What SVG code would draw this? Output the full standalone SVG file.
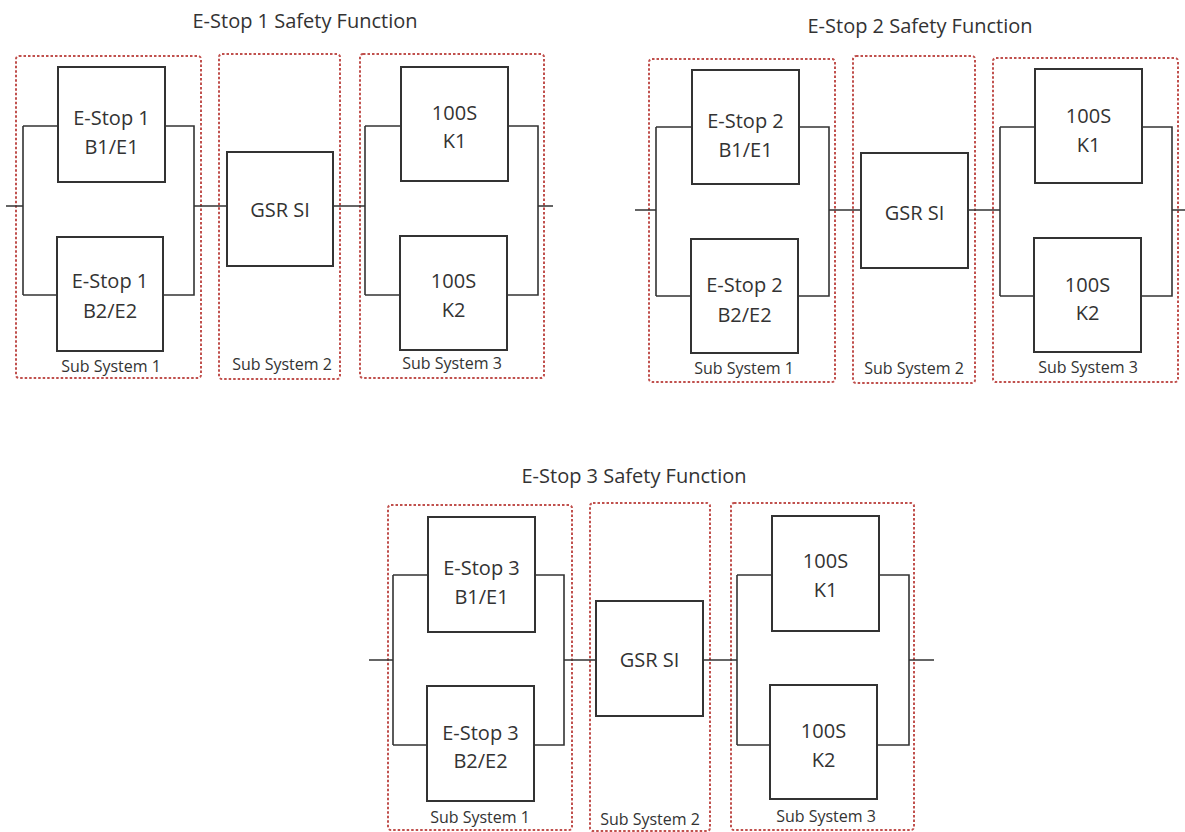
<svg xmlns="http://www.w3.org/2000/svg" width="1185" height="832" viewBox="0 0 1185 832">
<style>
text{font-family:"Open Sans","Liberation Sans",sans-serif;fill:#333;text-anchor:middle}
.t{font-size:20px}
.b{font-size:20px}
.s{font-size:16px}
.ss{fill:none;stroke:#c0504d;stroke-width:2;stroke-dasharray:2.5 2}
.box{fill:#fff;stroke:#333;stroke-width:2}
.c{fill:none;stroke:#333;stroke-width:1.6}
</style>
<rect width="1185" height="832" fill="#fff"/>

<!-- Diagram 1 -->
<g id="d1">
<text class="t" x="305" y="28">E-Stop 1 Safety Function</text>
<g id="d1-ss1"><rect class="ss" x="16" y="56" width="185" height="322" rx="3"/><text class="s" x="111" y="372">Sub System 1</text></g>
<g id="d1-ss2"><rect class="ss" x="219" y="54" width="121" height="325" rx="3"/><text class="s" x="282" y="370">Sub System 2</text></g>
<g id="d1-ss3"><rect class="ss" x="360" y="54" width="184" height="324" rx="3"/><text class="s" x="452" y="369">Sub System 3</text></g>
<g id="d1-connectors">
<path class="c" d="M6 206H23M23 126V295M23 126H58M23 295H57M165 126H194V295H163M194 206H227M333 206H365M365 126V295M365 126H401M365 295H400M508 126H538V295H507M538 206H553"/>
</g>
<g id="d1-b1"><rect class="box" x="58" y="67" width="107" height="115"/><text class="b" x="111.5" y="125">E-Stop 1</text><text class="b" x="111.5" y="154">B1/E1</text></g>
<g id="d1-b2"><rect class="box" x="57" y="237" width="106" height="114"/><text class="b" x="110" y="288">E-Stop 1</text><text class="b" x="110" y="318">B2/E2</text></g>
<g id="d1-gsr"><rect class="box" x="227" y="152" width="106" height="114"/><text class="b" x="280" y="217">GSR SI</text></g>
<g id="d1-k1"><rect class="box" x="401" y="67" width="107" height="114"/><text class="b" x="454.5" y="120">100S</text><text class="b" x="454.5" y="148">K1</text></g>
<g id="d1-k2"><rect class="box" x="400" y="236" width="107" height="114"/><text class="b" x="453.5" y="288">100S</text><text class="b" x="453.5" y="317">K2</text></g>
</g>

<!-- Diagram 2 -->
<g id="d2">
<text class="t" x="920" y="33">E-Stop 2 Safety Function</text>
<g id="d2-ss1"><rect class="ss" x="649" y="59" width="186" height="323" rx="3"/><text class="s" x="744" y="374">Sub System 1</text></g>
<g id="d2-ss2"><rect class="ss" x="853" y="56" width="122" height="327" rx="3"/><text class="s" x="914" y="374">Sub System 2</text></g>
<g id="d2-ss3"><rect class="ss" x="993" y="58" width="185" height="324" rx="3"/><text class="s" x="1088" y="373">Sub System 3</text></g>
<g id="d2-connectors">
<path class="c" d="M635 210H656M656 127V296M656 127H692M656 296H691M799 127H829V296H798M829 210H861M968 210H1000M1000 127V296M1000 127H1035M1000 296H1034M1142 127H1172V296H1141M1172 210H1185"/>
</g>
<g id="d2-b1"><rect class="box" x="692" y="70" width="107" height="114"/><text class="b" x="745.5" y="128">E-Stop 2</text><text class="b" x="745.5" y="157">B1/E1</text></g>
<g id="d2-b2"><rect class="box" x="691" y="239" width="107" height="114"/><text class="b" x="744.5" y="292">E-Stop 2</text><text class="b" x="744.5" y="322">B2/E2</text></g>
<g id="d2-gsr"><rect class="box" x="861" y="153" width="107" height="115"/><text class="b" x="914.5" y="220">GSR SI</text></g>
<g id="d2-k1"><rect class="box" x="1035" y="69" width="107" height="114"/><text class="b" x="1088.5" y="123">100S</text><text class="b" x="1088.5" y="152">K1</text></g>
<g id="d2-k2"><rect class="box" x="1034" y="238" width="107" height="114"/><text class="b" x="1087.5" y="292">100S</text><text class="b" x="1087.5" y="320">K2</text></g>
</g>

<!-- Diagram 3 -->
<g id="d3">
<text class="t" x="634" y="483">E-Stop 3 Safety Function</text>
<g id="d3-ss1"><rect class="ss" x="388" y="505" width="184" height="325" rx="3"/><text class="s" x="480" y="823">Sub System 1</text></g>
<g id="d3-ss2"><rect class="ss" x="590" y="503" width="120" height="328" rx="3"/><text class="s" x="650" y="825">Sub System 2</text></g>
<g id="d3-ss3"><rect class="ss" x="731" y="503" width="183" height="327" rx="3"/><text class="s" x="826" y="822">Sub System 3</text></g>
<g id="d3-connectors">
<path class="c" d="M369 660H393M393 575V745M393 575H428M393 745H427M535 575H564V745H534M564 660H596M703 660H737M737 575V745M737 575H772M737 745H770M879 575H909V745H877M909 660H934"/>
</g>
<g id="d3-b1"><rect class="box" x="428" y="517" width="107" height="115"/><text class="b" x="481.5" y="575">E-Stop 3</text><text class="b" x="481.5" y="604">B1/E1</text></g>
<g id="d3-b2"><rect class="box" x="427" y="686" width="107" height="115"/><text class="b" x="480.5" y="740">E-Stop 3</text><text class="b" x="480.5" y="768">B2/E2</text></g>
<g id="d3-gsr"><rect class="box" x="596" y="601" width="107" height="115"/><text class="b" x="649.5" y="667">GSR SI</text></g>
<g id="d3-k1"><rect class="box" x="772" y="516" width="107" height="115"/><text class="b" x="825.5" y="568">100S</text><text class="b" x="825.5" y="597">K1</text></g>
<g id="d3-k2"><rect class="box" x="770" y="685" width="107" height="114"/><text class="b" x="823.5" y="738">100S</text><text class="b" x="823.5" y="767">K2</text></g>
</g>
</svg>
